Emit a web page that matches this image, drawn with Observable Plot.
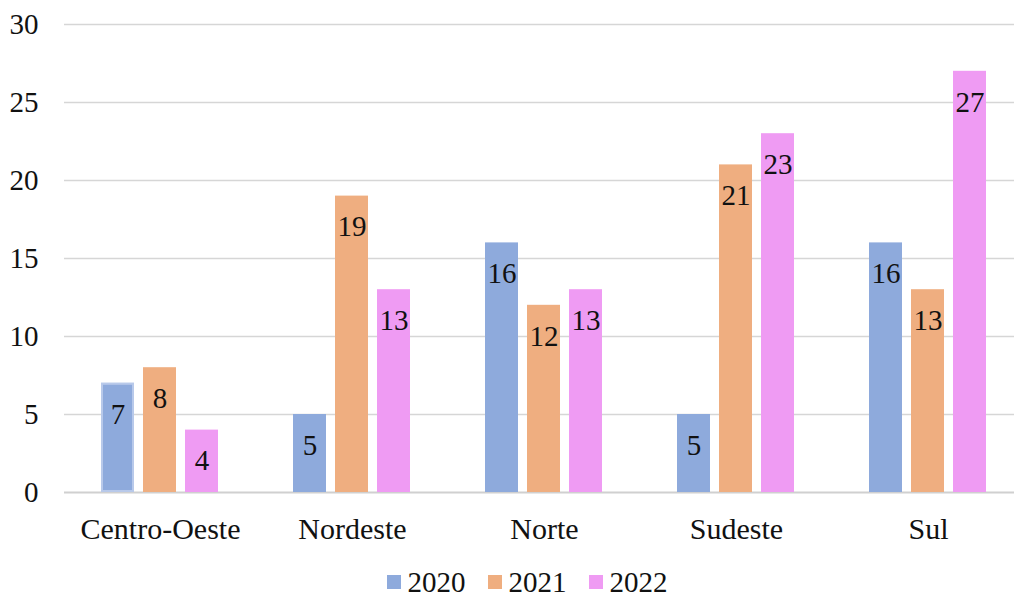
<!DOCTYPE html>
<html>
<head>
<meta charset="utf-8">
<script src="https://cdn.jsdelivr.net/npm/d3@7"></script>
<script src="https://cdn.jsdelivr.net/npm/@observablehq/plot@0.6"></script>
<style>
  body { margin: 0; background: white; font-family: "Times New Roman", "Liberation Serif", "DejaVu Serif", serif; overflow: hidden; }
  #legend { display: flex; justify-content: center; align-items: center; padding-left: 40px; padding-top: 16px; height: 32px; font-size: 29px; line-height: 32px; color: #111; }
  #legend .item { display: flex; align-items: center; margin: 0 11px; }
  #legend .sw { width: 14px; height: 14px; margin-right: 7px; }
</style>
</head>
<body>
<div id="chart"></div>
<div id="legend"></div>
<script>
const regions = ["Centro-Oeste", "Nordeste", "Norte", "Sudeste", "Sul"];
const years = ["2020", "2021", "2022"];
const values2020 = [7, 5, 16, 5, 16];
const values2021 = [8, 19, 12, 21, 13];
const values2022 = [4, 13, 13, 23, 27];
const yTicks = [0, 5, 10, 15, 20, 25, 30];
const colors = ["#8eaadc", "#efae80", "#ef9bf3"];

const series = [values2020, values2021, values2022];
const data = [];
regions.forEach((r, i) => years.forEach((y, j) => data.push({region: r, year: y, value: series[j][i]})));

const serif = "'Times New Roman', 'Liberation Serif', 'DejaVu Serif', serif";
const chart = Plot.plot({
  width: 1014,
  height: 550,
  marginLeft: 64,
  marginRight: -10,
  marginTop: 24,
  marginBottom: 58,
  style: {fontFamily: serif, fontSize: "29px", color: "#111", background: "white"},
  fx: {domain: regions, padding: 0, label: null, axis: null},
  x: {domain: years, axis: null, paddingInner: 0.21, paddingOuter: 0.84},
  y: {domain: [0, 30], ticks: yTicks, label: null, tickSize: 0, tickPadding: 26},
  color: {domain: years, range: colors},
  marks: [
    Plot.ruleY(yTicks.filter(d => d > 0), {stroke: "#d6d6d6", strokeWidth: 1.6}),
    Plot.ruleY([0], {stroke: "#d0d0d0", strokeWidth: 2}),
    Plot.axisFx({anchor: "bottom", label: null, tickSize: 0, tickPadding: 25, fontSize: 30, fontFamily: serif}),
    Plot.barY(data, {fx: "region", x: "year", y: "value", fill: "year"}),
    Plot.barY(data.filter((d, i) => i === 0), {fx: "region", x: "year", y: "value", fill: "year", stroke: "#b8c9ea", strokeWidth: 2, inset: 1}),
    Plot.text(data, {fx: "region", x: "year", y: "value", text: d => String(d.value), dy: 31, fill: "#111", fontSize: 29, fontFamily: serif})
  ]
});
document.getElementById("chart").appendChild(chart);

const legend = document.getElementById("legend");
years.forEach((y, i) => {
  const item = document.createElement("div");
  item.className = "item";
  const sw = document.createElement("div");
  sw.className = "sw";
  sw.style.background = colors[i];
  const t = document.createElement("span");
  t.textContent = y;
  item.appendChild(sw);
  item.appendChild(t);
  legend.appendChild(item);
});
</script>
</body>
</html>
